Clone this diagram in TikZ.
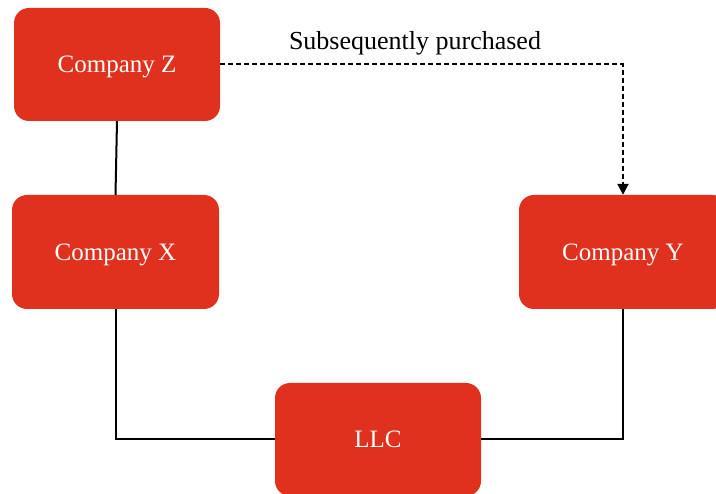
\documentclass[tikz,border=0pt]{standalone}
\usepackage{fontspec}
\setmainfont{Liberation Serif}
\usetikzlibrary{arrows.meta}
\definecolor{boxred}{HTML}{E0301E}
\begin{document}
\begin{tikzpicture}[x=1pt,y=-1pt,
  cobox/.style={fill=boxred, draw=none, rounded corners=15pt, minimum width=206pt, minimum height=113pt, text=white, font=\fontsize{25}{29}\selectfont, inner sep=0pt, text depth=0pt},
  conn/.style={line width=2pt, black},
  dconn/.style={conn, dash pattern=on 5pt off 3pt, -{Triangle[width=11pt,length=11pt]}},
  lbl/.style={font=\fontsize{26}{30}\selectfont, text=black}]
\useasboundingbox (0,0) rectangle (716,494);
\node[cobox] (Z) at (117,64.5) {Company Z};
\node[cobox, minimum width=207pt, minimum height=114pt] (X) at (115.5,252) {Company X};
\node[cobox, minimum width=208pt, minimum height=114pt] (Y) at (623,252) {Company Y};
\node[cobox, minimum height=113pt] (L) at (378,439.5) {LLC};
\node[lbl] (T) at (415,43) {Subsequently purchased};
\coordinate (c1) at (Y.north |- Z.east);
\coordinate (c2) at (X.south |- L.west);
\coordinate (c3) at (Y.south |- L.east);
\draw[conn] (Z.south) -- (X.north);
\draw[dconn] (Z.east) -- (c1) -- (Y.north);
\draw[conn] (X.south) -- (c2) -- (L.west);
\draw[conn] (L.east) -- (c3) -- (Y.south);
\end{tikzpicture}
\end{document}
